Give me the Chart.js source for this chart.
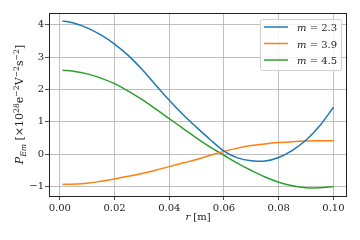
<!DOCTYPE html>
<html>
<head>
<meta charset="utf-8">
<script src="https://cdn.jsdelivr.net/npm/chart.js@4.4.1/dist/chart.umd.min.js"></script>
<style>
  html, body { margin: 0; padding: 0; background: #fff; }
  #wrap { width: 360px; height: 240px; position: relative; }
</style>
</head>
<body>
<div id="wrap"><canvas id="chart"></canvas></div>
<script>
// radius r [m]
const radii = [0.001, 0.005, 0.01, 0.015, 0.02, 0.025, 0.03, 0.035, 0.04, 0.045, 0.05,
  0.055, 0.06, 0.065, 0.07, 0.075, 0.08, 0.085, 0.09, 0.095, 0.1]
const seriesNames = ['2.3', '3.9', '4.5']
const powerM23 = [4.11, 4.05, 3.90, 3.68, 3.40, 3.05, 2.62, 2.14, 1.67, 1.23, 0.83,
  0.45, 0.10, -0.11, -0.20, -0.21, -0.10, 0.12, 0.44, 0.88, 1.45]
const powerM39 = [-0.93, -0.92, -0.89, -0.83, -0.76, -0.68, -0.59, -0.49, -0.38, -0.27, -0.16,
  -0.03, 0.09, 0.19, 0.27, 0.32, 0.36, 0.39, 0.41, 0.42, 0.42]
const powerM45 = [2.59, 2.56, 2.48, 2.35, 2.18, 1.95, 1.69, 1.40, 1.10, 0.80, 0.50,
  0.22, -0.03, -0.28, -0.50, -0.70, -0.86, -0.97, -1.03, -1.03, -0.99]
const xTicks = [0, 0.02, 0.04, 0.06, 0.08, 0.1]
const yTicks = [-1, 0, 1, 2, 3, 4]

const colors = ['#1f77b4', '#ff7f0e', '#2ca02c']
const FONT = "'DejaVu Serif', serif"

const toPoints = vals => vals.map((v, i) => ({ x: radii[i], y: v }))

// draws a list of [text, kind] pieces, kind: n normal, i italic, sub, sup, isub
function drawRich(ctx, parts, x, y, size) {
  let cx = x
  parts.forEach(([t, kind]) => {
    let s = size, dy = 0, style = ''
    if (kind === 'i') style = 'italic '
    if (kind === 'sub' || kind === 'isub') { s = size * 0.7; dy = size * 0.25 }
    if (kind === 'isub') style = 'italic '
    if (kind === 'sup') { s = size * 0.7; dy = -size * 0.4 }
    ctx.font = style + s + 'px ' + FONT
    ctx.fillText(t, cx, y + dy)
    cx += ctx.measureText(t).width
  })
  return cx - x
}

function measureRich(ctx, parts, size) {
  let w = 0
  parts.forEach(([t, kind]) => {
    let s = size, style = ''
    if (kind === 'i' || kind === 'isub') style = 'italic '
    if (kind !== 'i' && kind !== 'n') s = size * 0.7
    ctx.font = style + s + 'px ' + FONT
    w += ctx.measureText(t).width
  })
  return w
}

const decorations = {
  id: 'decorations',
  afterDatasetsDraw(chart) {
    const { ctx, chartArea: a } = chart
    ctx.save()
    // frame
    ctx.strokeStyle = '#222'
    ctx.lineWidth = 1
    ctx.strokeRect(Math.round(a.left) + 0.5, Math.round(a.top) + 0.5,
      Math.round(a.right - a.left) - 1, Math.round(a.bottom - a.top))

    ctx.fillStyle = '#222'
    ctx.textBaseline = 'alphabetic'

    // x title
    const xt = [['r', 'i'], [' [m]', 'n']]
    const xw = measureRich(ctx, xt, 10)
    drawRich(ctx, xt, (a.left + a.right) / 2 - xw / 2, 220, 10)

    // y title, rotated
    const yt = [['P', 'i'], ['Em', 'isub'], [' [×10', 'n'], ['28', 'sup'], ['e', 'n'], ['−2', 'sup'],
      ['V', 'n'], ['−2', 'sup'], ['s', 'n'], ['−2', 'sup'], [']', 'n']]
    const yw = measureRich(ctx, yt, 11)
    ctx.save()
    ctx.translate(23, (a.top + a.bottom) / 2)
    ctx.rotate(-Math.PI / 2)
    drawRich(ctx, yt, -yw / 2, 0, 11)
    ctx.restore()

    // legend
    const lx = 260, ly = 19, lw = 81, lh = 51
    ctx.beginPath()
    ctx.roundRect(lx + 0.5, ly + 0.5, lw, lh, 2)
    ctx.fillStyle = 'rgba(255,255,255,0.8)'
    ctx.fill()
    ctx.strokeStyle = '#d0d0d0'
    ctx.stroke()
    seriesNames.forEach((name, i) => {
      const y = ly + 8 + i * 16.5
      ctx.strokeStyle = colors[i]
      ctx.lineWidth = 1.5
      ctx.beginPath()
      ctx.moveTo(lx + 4, y)
      ctx.lineTo(lx + 28, y)
      ctx.stroke()
      ctx.fillStyle = '#222'
      drawRich(ctx, [['m', 'i'], [' = ' + name, 'n']], lx + 37, y + 4, 10)
    })
    ctx.restore()
  }
}

new Chart(document.getElementById('chart'), {
  type: 'line',
  data: {
    datasets: [powerM23, powerM39, powerM45].map((vals, i) => ({
      label: 'm = ' + seriesNames[i],
      data: toPoints(vals),
      borderColor: colors[i],
      backgroundColor: colors[i],
      borderWidth: 1.5,
      pointRadius: 0,
      tension: 0.35,
      fill: false
    }))
  },
  options: {
    responsive: true,
    maintainAspectRatio: false,
    animation: false,
    layout: { padding: { left: 0, right: 13, top: 13, bottom: 0 } },
    plugins: {
      legend: { display: false },
      tooltip: { enabled: false }
    },
    scales: {
      x: {
        type: 'linear',
        min: -0.00395,
        max: 0.10495,
        afterBuildTicks: s => { s.ticks = xTicks.map(v => ({ value: v })) },
        afterFit: s => { s.height = 44 },
        border: { display: false },
        grid: { color: '#b0b0b0', lineWidth: 0.8, tickColor: '#222', tickLength: 4 },
        ticks: {
          padding: 2,
          color: '#222',
          font: { family: FONT, size: 10 },
          maxRotation: 0,
          callback: v => v.toFixed(2)
        }
      },
      y: {
        min: -1.286,
        max: 4.357,
        afterBuildTicks: s => { s.ticks = yTicks.map(v => ({ value: v })) },
        afterFit: s => { s.width = 49 },
        border: { display: false },
        grid: { color: '#b0b0b0', lineWidth: 0.8, tickColor: '#222', tickLength: 4 },
        ticks: {
          padding: 1,
          color: '#222',
          font: { family: FONT, size: 10 },
          callback: v => (v < 0 ? '−' : '') + Math.abs(v)
        }
      }
    }
  },
  plugins: [decorations]
})
</script>
</body>
</html>
